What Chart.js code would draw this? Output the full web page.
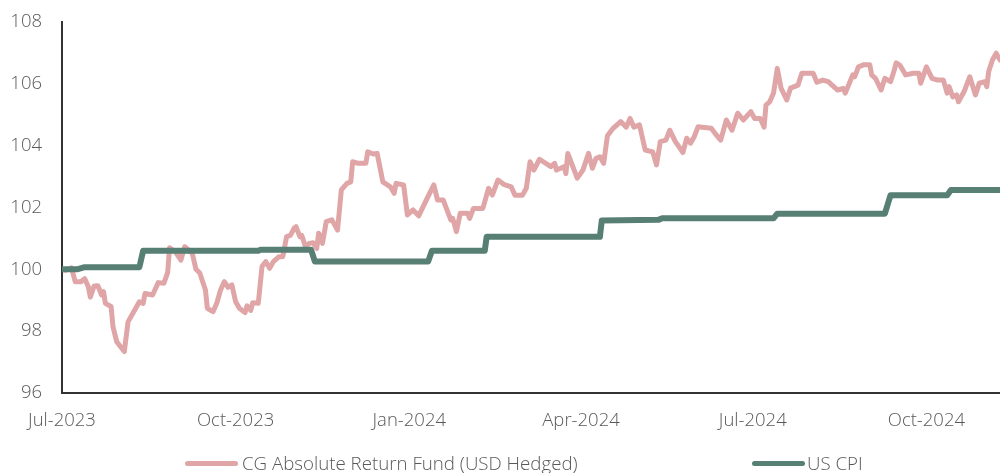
<!DOCTYPE html>
<html>
<head>
<meta charset="utf-8">
<script src="https://cdn.jsdelivr.net/npm/chart.js@4.4.1/dist/chart.umd.min.js"></script>
<style>
  html, body { margin: 0; padding: 0; background: #fff; }
  #wrap { position: relative; width: 1000px; height: 473px; font-family: "Open Sans", sans-serif; font-weight: 300; color: #595959; }
  #myChart { position: absolute; left: 0; top: 0; }
  .lg { position: absolute; top: 452px; height: 22px; font-size: 18.7px; line-height: 22px; white-space: nowrap; }
  .lg span.sw { position: absolute; top: 9px; height: 5px; width: 53px; border-radius: 3px; }
  .lg span.tx { position: absolute; top: 0; }
</style>
</head>
<body>
<div id="wrap">
  <canvas id="myChart" width="1000" height="473"></canvas>
  <div class="lg" style="left:185px"><span class="sw" style="left:0;background:#dfa5a7"></span><span class="tx" style="left:57px">CG Absolute Return Fund (USD Hedged)</span></div>
  <div class="lg" style="left:752px"><span class="sw" style="left:0;background:#587f74"></span><span class="tx" style="left:55px">US CPI</span></div>
</div>
<script>
(function() {
  // days counted from 1 Jul 2023
  var tickDays = [0, 92, 184, 275, 366, 458];
  var tickLabels = ['Jul-2023', 'Oct-2023', 'Jan-2024', 'Apr-2024', 'Jul-2024', 'Oct-2024'];

  var fundDays = [0, 2, 5, 7, 10, 12, 14, 15, 17, 19, 21, 22, 23, 26, 27, 29, 33, 35, 38, 41,
    43, 44, 48, 51, 54, 56, 57, 60, 63, 65, 69, 71, 73, 76, 77, 80, 82, 84, 86, 88,
    90, 92, 94, 97, 98, 100, 101, 104, 106, 108, 110, 112, 115, 117, 119, 121, 123, 124, 126, 127,
    129, 131, 133, 135, 136, 138, 140, 143, 146, 148, 151, 153, 154, 157, 161, 162, 165, 167, 170, 174,
    176, 177, 181, 183, 186, 189, 193, 197, 199, 202, 206, 207, 209, 211, 215, 216, 218, 223, 226, 228,
    231, 234, 238, 240, 244, 246, 248, 250, 253, 259, 261, 262, 266, 267, 268, 270, 273, 276, 279, 281,
    283, 285, 287, 289, 292, 296, 299, 301, 303, 306, 309, 313, 315, 317, 320, 322, 325, 329, 331, 333,
    335, 337, 344, 346, 349, 352, 355, 358, 361, 365, 367, 370, 372, 373, 375, 377, 379, 381, 384, 386,
    390, 392, 398, 400, 403, 406, 408, 411, 414, 415, 419, 420, 422, 425, 428, 429, 431, 434, 436, 439,
    441, 442, 444, 447, 451, 454, 455, 458, 461, 464, 467, 469, 470, 472, 474, 475, 478, 481, 484, 486,
    489, 490, 491, 493, 495, 497];
  var fundValues = [100.0, 99.97, 100.05, 99.6, 99.6, 99.7, 99.43, 99.1, 99.46, 99.47, 99.17, 99.28, 98.9, 98.8, 98.15, 97.66, 97.34, 98.3, 98.63, 98.95,
    98.9, 99.22, 99.17, 99.57, 99.55, 99.9, 100.7, 100.57, 100.3, 100.73, 100.52, 100.0, 99.88, 99.33, 98.74, 98.63, 98.9, 99.33, 99.6, 99.42,
    99.5, 98.95, 98.74, 98.6, 98.82, 98.67, 98.92, 98.9, 100.1, 100.25, 100.03, 100.25, 100.41, 100.41, 101.06, 101.1, 101.33, 101.38, 101.06, 101.1,
    100.73, 100.84, 100.86, 100.68, 101.17, 100.84, 101.54, 101.6, 101.27, 102.57, 102.78, 102.83, 103.48, 103.43, 103.43, 103.8, 103.73, 103.75, 102.83, 102.67,
    102.46, 102.78, 102.73, 101.76, 101.92, 101.73, 102.24, 102.73, 102.24, 102.24, 101.6, 101.65, 101.22, 101.81, 101.81, 101.65, 101.97, 101.97, 102.62, 102.4,
    102.89, 102.75, 102.67, 102.4, 102.4, 102.62, 103.48, 103.21, 103.56, 103.32, 103.43, 103.21, 103.32, 103.1, 103.75, 103.43, 102.95, 103.21, 103.75, 103.27,
    103.59, 103.64, 103.43, 104.32, 104.56, 104.78, 104.6, 104.88, 104.6, 104.67, 103.86, 103.8, 103.38, 104.13, 104.18, 104.5, 104.13, 103.78, 104.24, 104.08,
    104.29, 104.61, 104.56, 104.4, 104.18, 104.83, 104.5, 105.05, 104.83, 105.1, 104.88, 104.88, 104.6, 105.31, 105.42, 105.7, 106.5, 105.86, 105.48, 105.86,
    105.96, 106.34, 106.34, 106.05, 106.12, 106.07, 105.96, 105.8, 105.85, 105.7, 106.29, 106.23, 106.55, 106.62, 106.62, 106.29, 106.18, 105.8, 106.18, 106.07,
    106.45, 106.68, 106.6, 106.29, 106.34, 106.34, 106.02, 106.55, 106.18, 106.12, 106.12, 105.7, 105.91, 105.58, 105.64, 105.42, 105.75, 106.23, 105.64, 106.02,
    106.07, 105.91, 106.4, 106.77, 106.99, 106.77];

  var cpiDays = [0, 8, 12, 41, 43, 104, 105, 132, 134, 194, 196, 224, 225, 285, 286, 316, 318, 377, 379, 436, 439, 469, 471, 497];
  var cpiValues = [100.0, 100.0, 100.07, 100.07, 100.6, 100.6, 100.63, 100.63, 100.25, 100.25, 100.6, 100.6, 101.05, 101.05, 101.58, 101.6, 101.65, 101.65, 101.8, 101.8, 102.4, 102.4, 102.57, 102.57];

  var toPoints = function(days, values) {
    return days.map(function(d, i) { return {x: d, y: values[i]}; });
  };

  var ctx = document.getElementById('myChart').getContext('2d');
  Chart.defaults.font.family = '"Open Sans", sans-serif';
  Chart.defaults.font.weight = 300;
  Chart.defaults.color = '#595959';

  window.myChart = new Chart(ctx, {
    type: 'line',
    data: {
      datasets: [
        {
          label: 'CG Absolute Return Fund (USD Hedged)',
          data: toPoints(fundDays, fundValues),
          borderColor: '#dfa5a7',
          borderWidth: 5,
          pointRadius: 0,
          tension: 0,
          borderJoinStyle: 'round',
          borderCapStyle: 'round',
          order: 1
        },
        {
          label: 'US CPI',
          data: toPoints(cpiDays, cpiValues),
          borderColor: '#587f74',
          borderWidth: 6,
          pointRadius: 0,
          tension: 0,
          borderJoinStyle: 'round',
          order: 0
        }
      ]
    },
    options: {
      responsive: false,
      animation: false,
      layout: { padding: { top: 22, right: 0, bottom: 40, left: 0 } },
      plugins: {
        legend: { display: false },
        tooltip: { enabled: false }
      },
      scales: {
        x: {
          type: 'linear',
          min: 0,
          max: 497,
          grid: { display: false, drawTicks: false },
          border: { display: true, color: '#333333', width: 2 },
          afterBuildTicks: function(scale) {
            scale.ticks = tickDays.map(function(d) { return {value: d}; });
          },
          afterFit: function(scale) { scale.height = 40; },
          ticks: {
            autoSkip: false,
            maxRotation: 0,
            padding: 17,
            font: { size: 18.5 },
            callback: function(v) {
              var i = tickDays.indexOf(v);
              return i >= 0 ? tickLabels[i] : '';
            }
          }
        },
        y: {
          min: 96,
          max: 108,
          // hidden tick marks still push the labels away from the axis
          grid: { display: false, drawTicks: true, tickLength: 10 },
          border: { display: true, color: '#333333', width: 2 },
          afterFit: function(scale) { scale.width = 62; },
          ticks: {
            stepSize: 2,
            padding: 10,
            font: { size: 18.5 }
          }
        }
      }
    }
  });
})();
</script>
</body>
</html>
